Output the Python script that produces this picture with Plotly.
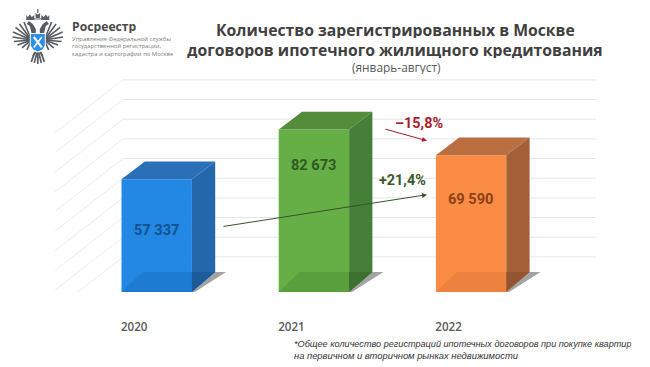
import plotly.graph_objects as go

# ---- data ----
categories = ["2020", "2021", "2022"]
values = [57337, 82673, 69590]
grid_values = [10000, 20000, 30000, 40000, 50000, 60000, 70000, 80000, 90000, 100000]
label_texts = ["57 337", "82 673", "69 590"]
change_up = "+21,4%"
change_down = "–15,8%"

front_colors = ["#2288e4", "#66ae46", "#fa8c45"]
top_colors = ["#2a70b8", "#548c3b", "#bb6f40"]
side_colors = ["#2468ab", "#457f38", "#a45f36"]
floor_front = ["#1d7bd2", "#5a9f3d", "#ec8140"]
floor_side = ["#1c5b9a", "#3c7030", "#945431"]
label_colors = ["#15508f", "#2e5a22", "#8a4216"]
label_frac = [0.553, 0.78, 0.68]

PAGE = 8              # the page's own margin round the figure
W, H = 650 - PAGE, 367 - PAGE
ROW0 = 292.5          # pixel row of value 0 in the window
BASE = ROW0 - PAGE
PX_PER_VAL = 0.00197
X0, STEP = 156.7, 157.2

def ux(px): return px / STEP
def uy(px): return px / PX_PER_VAL
def fx(px): return (px - X0) / STEP
def fy(py): return (ROW0 - py) / BASE
def nx(px): return (px - PAGE) / W

HALF = ux(35.2)
DX, DY_T, DY_B = ux(23.3), uy(17.7), uy(20)
WALL_DY = 292.5 - 277

fig = go.Figure()
shapes = []

# back wall and left wall grid
x_l, x_r = fx(123), fx(596)
for g in grid_values:
    yb = g + uy(WALL_DY)
    shapes.append(dict(type="line", layer="below", xref="x", yref="y", x0=x_l, x1=x_r, y0=yb, y1=yb,
                       line=dict(color="#e6e6e6", width=1)))
    shapes.append(dict(type="line", layer="below", xref="x", yref="y", x0=x_l, x1=x_l - ux(68), y0=yb, y1=yb - uy(53),
                       line=dict(color="#ededed", width=1)))

# ground shadows
for i in range(3):
    l, r = i - HALF, i + HALF
    p = [(l - ux(9), -uy(1.8)), (r, -uy(1.8)), (r + DX + ux(11), DY_B), (r + DX, DY_B), (r, 0), (l, 0)]
    path = "M " + " L ".join(f"{a},{b}" for a, b in p) + " Z"
    shapes.append(dict(type="path", layer="below", xref="x", yref="y", path=path,
                       fillcolor="#a3a3a3", line=dict(width=0)))

# bars
fig.add_trace(go.Bar(x=list(range(3)), y=values, width=2 * HALF,
                     marker=dict(color=front_colors, line=dict(width=0)), hoverinfo="skip"))

def face(xs, ys, color):
    fig.add_trace(go.Scatter(x=xs, y=ys, mode="lines", fill="toself", fillcolor=color,
                             line=dict(width=0, color=color), cliponaxis=False, hoverinfo="skip"))

for i, v in enumerate(values):
    l, r = i - HALF, i + HALF
    face([l, l + DX, r + DX, r, l], [v, v + DY_T, v + DY_T, v, v], top_colors[i])
    face([r, r + DX, r + DX, r, r], [v, v + DY_T, DY_B, 0, v], side_colors[i])
    face([l, l + ux(21), r, r, l], [0, DY_B, DY_B, 0, 0], floor_front[i])
    face([r, r + DX, r, r], [0, DY_B, DY_B, 0], floor_side[i])

annotations = []
for i, v in enumerate(values):
    annotations.append(dict(x=i, y=v * label_frac[i], xref="x", yref="y", text=f"<b>{label_texts[i]}</b>",
                            showarrow=False, font=dict(family="Roboto", size=14.6, color=label_colors[i])))

def note(px, py, text, size, color, family="Open Sans", anchor="center", height=None):
    a = dict(x=nx(px), y=fy(py), xref="paper", yref="paper", text=text, showarrow=False,
             xanchor=anchor, yanchor="middle", font=dict(family=family, size=size, color=color))
    if height:
        a["height"] = height
    annotations.append(a)

def arrow(x0, y0, x1, y1, color):
    annotations.append(dict(x=nx(x1), y=fy(y1), ax=x0 - x1, ay=y0 - y1, xref="paper", yref="paper",
                            axref="pixel", ayref="pixel", text="", showarrow=True, arrowhead=2,
                            arrowsize=1, arrowwidth=1, arrowcolor=color))

arrow(222, 227, 427, 195, "#38542c")
arrow(384, 129, 427, 141, "#a31d2b")
note(402, 181, f"<b>{change_up}</b>", 14.4, "#3a5a2c", "Roboto")
note(419, 124, f"<b>{change_down}</b>", 14.4, "#a81c2c", "Roboto")

note(395, 29.5, "<b>Количество зарегистрированных в Москве</b>", 15.75, "#404040", height=17)
note(395, 49.5, "<b>договоров ипотечного жилищного кредитования</b>", 15.75, "#404040", height=17)
note(396, 67, "(январь-август)", 11.9, "#595959", height=14)

note(69.5, 27, "<b>Росреестр</b>", 12.2, "#4a4a4a", "Open Sans", "left", 13)
note(69.5, 38.5, "Управление Федеральной службы", 5.9, "#7a7a7a", "Open Sans", "left", 7)
note(69.5, 46, "государственной регистрации,", 5.9, "#7a7a7a", "Open Sans", "left", 7)
note(69.5, 54, "кадастра и картографии по Москве", 5.9, "#7a7a7a", "Open Sans", "left", 7)

note(292, 344, "<i>*Общее количество регистраций ипотечных договоров при покупке квартир</i>", 9.15, "#333333", "Liberation Sans", "left", 11)
note(292, 356, "<i>на первичном и вторичном рынках недвижимости</i>", 9.4, "#333333", "Liberation Sans", "left", 11)

# ---- emblem ----
def pth(pts, close=True):
    s = "M " + " L ".join(f"{nx(a)},{fy(b)}" for a, b in pts)
    return s + (" Z" if close else "")

def emblem_poly(pts, fill):
    shapes.append(dict(type="path", xref="paper", yref="paper", path=pth(pts), fillcolor=fill, line=dict(width=0)))

def emblem_line(pts, color, w):
    shapes.append(dict(type="path", xref="paper", yref="paper", path=pth(pts, False), line=dict(color=color, width=w)))

CX = 37.8
GR = "#565b61"
tips = [(24, 22), (19.5, 24), (15.5, 27.5), (13, 32), (12.5, 37), (14, 41.5), (17.5, 45), (22, 48), (27, 50)]
for tx, ty in tips:
    for sgn in (-1, 1):
        emblem_line([(CX + sgn * 6.5, 40), (CX + sgn * (CX - tx), ty)], GR, 1.6)
for sgn in (-1, 1):
    m = lambda a: CX + sgn * a
    emblem_poly([(m(5), 24), (m(9), 21), (m(11), 24), (m(8), 26), (m(6), 34), (m(2), 34), (m(2), 29)], GR)
    emblem_poly([(m(3.5), 20), (m(3.5), 15), (m(6), 17), (m(8), 14.5), (m(10), 17), (m(11.5), 15), (m(11.5), 20)], "#5b6066")
    emblem_line([(m(2), 52), (m(5), 56)], GR, 1.6)
    emblem_line([(m(1), 53), (m(3.5), 63)], GR, 1.7)
    emblem_line([(m(3), 52), (m(6.5), 62)], GR, 1.7)
emblem_line([(CX, 52), (CX, 64)], GR, 1.7)
emblem_poly([(CX - 2, 18), (CX - 2.5, 13), (CX, 14.5), (CX + 2.5, 13), (CX + 2, 18)], "#5b6066")
emblem_line([(CX, 9), (CX, 13)], "#5b6066", 1.2)
emblem_line([(CX - 4, 19), (CX + 4, 19)], "#5b6066", 1.0)
emblem_poly([(CX - 8, 33), (CX + 8, 33), (CX + 8, 46), (CX + 5, 50), (CX, 52.5), (CX - 5, 50), (CX - 8, 46)], "#ffffff")
emblem_poly([(CX - 7, 34), (CX + 7, 34), (CX + 7, 45.5), (CX + 4.5, 49.5), (CX, 51.5), (CX - 4.5, 49.5), (CX - 7, 45.5)], "#2c8fe6")
emblem_line([(CX - 4, 37), (CX + 4, 47.5)], "#ffffff", 2.2)
emblem_line([(CX + 4, 37), (CX - 4, 47.5)], "#ffffff", 1.6)

fig.update_layout(
    width=W, height=H, margin=dict(l=0, r=0, t=0, b=H - BASE, autoexpand=False),
    paper_bgcolor="#ffffff", plot_bgcolor="rgba(0,0,0,0)", showlegend=False,
    shapes=shapes, annotations=annotations,
    xaxis=dict(range=[fx(PAGE), fx(650)], showgrid=False, zeroline=False, showline=False,
               tickmode="array", tickvals=[i - ux(22.5) for i in range(3)], ticktext=categories,
               ticks="outside", ticklen=24, tickcolor="rgba(0,0,0,0)", tickangle=0,
               tickfont=dict(family="Open Sans", size=11.6, color="#595959", weight=600), fixedrange=True),
    yaxis=dict(range=[0, BASE / PX_PER_VAL], visible=False, fixedrange=True),
)
fig.write_html("out.html")
